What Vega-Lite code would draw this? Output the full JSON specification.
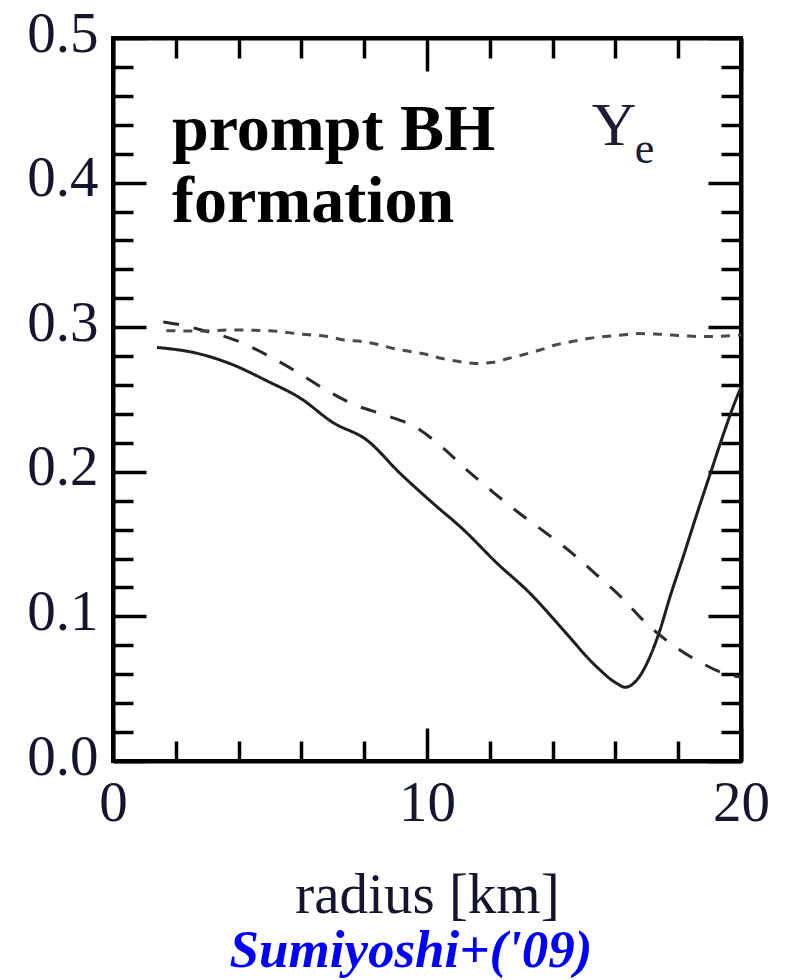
{
  "$schema": "https://vega.github.io/schema/vega-lite/v6.json",
  "width": 628,
  "height": 723,
  "autosize": {"type": "none"},
  "padding": {"left": 113, "top": 38, "right": 44, "bottom": 219},
  "background": "white",
  "config": {
    "view": {"stroke": "black", "strokeWidth": 4},
    "axis": {"grid": false, "labelFlush": false, "labelOverlap": false, "tickColor": "black", "tickWidth": 3.5, "domainColor": "black", "domainWidth": 4, "tickCap": "butt"}
  },
  "title": {
    "text": "Sumiyoshi+('09)",
    "orient": "bottom",
    "anchor": "middle",
    "font": "Liberation Serif",
    "fontSize": 53,
    "fontStyle": "italic",
    "fontWeight": "bold",
    "color": "#0000ff",
    "offset": 2,
    "dx": -16
  },
  "datasets": {
    "curves": [
      {"s": "solid", "x": 1.4, "y": 0.286},
      {"s": "solid", "x": 2.67, "y": 0.282},
      {"s": "solid", "x": 3.82, "y": 0.274},
      {"s": "solid", "x": 4.89, "y": 0.263},
      {"s": "solid", "x": 5.96, "y": 0.251},
      {"s": "solid", "x": 7.01, "y": 0.234},
      {"s": "solid", "x": 8.08, "y": 0.222},
      {"s": "solid", "x": 9.14, "y": 0.199},
      {"s": "solid", "x": 10.15, "y": 0.179},
      {"s": "solid", "x": 11.16, "y": 0.160},
      {"s": "solid", "x": 12.22, "y": 0.137},
      {"s": "solid", "x": 13.28, "y": 0.116},
      {"s": "solid", "x": 14.34, "y": 0.0906},
      {"s": "solid", "x": 15.40, "y": 0.0652},
      {"s": "solid", "x": 16.04, "y": 0.0537},
      {"s": "solid", "x": 16.31, "y": 0.051},
      {"s": "solid", "x": 16.68, "y": 0.056},
      {"s": "solid", "x": 17.10, "y": 0.0721},
      {"s": "solid", "x": 17.42, "y": 0.0906},
      {"s": "solid", "x": 17.74, "y": 0.1136},
      {"s": "solid", "x": 18.16, "y": 0.1413},
      {"s": "solid", "x": 18.59, "y": 0.1705},
      {"s": "solid", "x": 19.01, "y": 0.198},
      {"s": "solid", "x": 19.44, "y": 0.226},
      {"s": "solid", "x": 19.75, "y": 0.245},
      {"s": "solid", "x": 20.0, "y": 0.2585},
      {"s": "dashed", "x": 1.6, "y": 0.3036},
      {"s": "dashed", "x": 2.3, "y": 0.301},
      {"s": "dashed", "x": 2.93, "y": 0.2974},
      {"s": "dashed", "x": 3.5, "y": 0.294},
      {"s": "dashed", "x": 4.04, "y": 0.2898},
      {"s": "dashed", "x": 4.97, "y": 0.280},
      {"s": "dashed", "x": 5.86, "y": 0.269},
      {"s": "dashed", "x": 6.78, "y": 0.2566},
      {"s": "dashed", "x": 7.71, "y": 0.2462},
      {"s": "dashed", "x": 8.66, "y": 0.2393},
      {"s": "dashed", "x": 9.68, "y": 0.2303},
      {"s": "dashed", "x": 10.51, "y": 0.2165},
      {"s": "dashed", "x": 11.34, "y": 0.1999},
      {"s": "dashed", "x": 12.10, "y": 0.186},
      {"s": "dashed", "x": 12.93, "y": 0.1715},
      {"s": "dashed", "x": 13.79, "y": 0.1577},
      {"s": "dashed", "x": 14.62, "y": 0.1438},
      {"s": "dashed", "x": 15.41, "y": 0.1286},
      {"s": "dashed", "x": 16.18, "y": 0.1134},
      {"s": "dashed", "x": 16.91, "y": 0.0968},
      {"s": "dashed", "x": 17.74, "y": 0.0816},
      {"s": "dashed", "x": 18.63, "y": 0.0692},
      {"s": "dashed", "x": 19.52, "y": 0.0602},
      {"s": "dashed", "x": 20.0, "y": 0.058},
      {"s": "dotted", "x": 1.7, "y": 0.2975},
      {"s": "dotted", "x": 2.93, "y": 0.2974},
      {"s": "dotted", "x": 3.66, "y": 0.2981},
      {"s": "dotted", "x": 4.75, "y": 0.2977},
      {"s": "dotted", "x": 5.32, "y": 0.297},
      {"s": "dotted", "x": 5.83, "y": 0.2956},
      {"s": "dotted", "x": 6.34, "y": 0.2946},
      {"s": "dotted", "x": 6.85, "y": 0.2936},
      {"s": "dotted", "x": 7.36, "y": 0.2911},
      {"s": "dotted", "x": 7.93, "y": 0.2901},
      {"s": "dotted", "x": 8.44, "y": 0.288},
      {"s": "dotted", "x": 8.92, "y": 0.2853},
      {"s": "dotted", "x": 9.46, "y": 0.2832},
      {"s": "dotted", "x": 10.0, "y": 0.2811},
      {"s": "dotted", "x": 10.48, "y": 0.2783},
      {"s": "dotted", "x": 11.02, "y": 0.2763},
      {"s": "dotted", "x": 11.53, "y": 0.2749},
      {"s": "dotted", "x": 12.07, "y": 0.2756},
      {"s": "dotted", "x": 12.58, "y": 0.2783},
      {"s": "dotted", "x": 13.03, "y": 0.2808},
      {"s": "dotted", "x": 13.6, "y": 0.2842},
      {"s": "dotted", "x": 14.08, "y": 0.2877},
      {"s": "dotted", "x": 14.62, "y": 0.2901},
      {"s": "dotted", "x": 15.13, "y": 0.2922},
      {"s": "dotted", "x": 15.67, "y": 0.2936},
      {"s": "dotted", "x": 16.21, "y": 0.2946},
      {"s": "dotted", "x": 16.72, "y": 0.2956},
      {"s": "dotted", "x": 17.26, "y": 0.2953},
      {"s": "dotted", "x": 17.8, "y": 0.2946},
      {"s": "dotted", "x": 18.31, "y": 0.2939},
      {"s": "dotted", "x": 18.85, "y": 0.2935},
      {"s": "dotted", "x": 19.39, "y": 0.2938},
      {"s": "dotted", "x": 20.0, "y": 0.2946}
    ],
    "label1": [{"x": 1.88, "y": 0.4225, "t": ["prompt BH", "formation"]}],
    "label2": [{"x": 15.25, "y": 0.426, "t": "Y"}],
    "label3": [{"x": 16.62, "y": 0.4135, "t": "e"}]
  },
  "resolve": {"scale": {"x": "shared", "y": "shared"}, "axis": {"x": "independent", "y": "independent"}},
  "layer": [
    {
      "data": {"name": "curves"},
      "mark": {"type": "line", "strokeWidth": 3, "clip": true, "interpolate": "monotone"},
      "encoding": {
        "x": {"field": "x", "type": "quantitative", "scale": {"domain": [0, 20], "nice": false, "zero": false},
          "axis": {"orient": "bottom", "values": [0, 10, 20], "format": "d", "tickSize": -33, "labelPadding": 47,
            "labelFont": "Liberation Serif", "labelFontSize": 57, "labelColor": "#15152e",
            "title": "radius [km]", "titleFont": "Liberation Serif", "titleFontSize": 57, "titleFontWeight": "normal", "titleColor": "#15152e", "titlePadding": 36}},
        "y": {"field": "y", "type": "quantitative", "scale": {"domain": [0, 0.5], "nice": false, "zero": false},
          "axis": {"orient": "left", "values": [0, 0.1, 0.2, 0.3, 0.4, 0.5], "format": ".1f", "tickSize": -33, "labelPadding": 48,
            "labelFont": "Liberation Serif", "labelFontSize": 57, "labelColor": "#15152e", "labelOffset": -4, "title": null}},
        "strokeDash": {"field": "s", "type": "nominal", "legend": null,
          "scale": {"domain": ["solid", "dashed", "dotted"], "range": [[1, 0], [16, 15], [9, 8]]}},
        "color": {"field": "s", "type": "nominal", "legend": null,
          "scale": {"domain": ["solid", "dashed", "dotted"], "range": ["#1e1e1e", "#2a2a2a", "#4a4a4a"]}}
      }
    },
    {
      "data": {"name": "label1"},
      "mark": {"type": "text", "font": "Liberation Serif", "fontWeight": "bold", "fontSize": 66, "align": "left", "baseline": "alphabetic", "lineHeight": 72, "color": "black"},
      "encoding": {
        "x": {"field": "x", "type": "quantitative", "scale": {"domain": [0, 20], "nice": false, "zero": false},
          "axis": {"orient": "bottom", "values": [2, 4, 6, 8, 12, 14, 16, 18], "tickSize": -20, "labels": false, "domain": false, "title": null}},
        "y": {"field": "y", "type": "quantitative", "scale": {"domain": [0, 0.5], "nice": false, "zero": false},
          "axis": {"orient": "left", "values": [0.02, 0.04, 0.06, 0.08, 0.12, 0.14, 0.16, 0.18, 0.22, 0.24, 0.26, 0.28, 0.32, 0.34, 0.36, 0.38, 0.42, 0.44, 0.46, 0.48], "tickSize": -20, "labels": false, "domain": false, "title": null}},
        "text": {"field": "t"}
      }
    },
    {
      "data": {"name": "label2"},
      "mark": {"type": "text", "font": "Liberation Serif", "fontSize": 62, "align": "left", "baseline": "alphabetic", "color": "#201a35"},
      "encoding": {
        "x": {"field": "x", "type": "quantitative", "scale": {"domain": [0, 20], "nice": false, "zero": false},
          "axis": {"orient": "top", "values": [0, 10, 20], "tickSize": -33, "labels": false, "title": null}},
        "y": {"field": "y", "type": "quantitative", "scale": {"domain": [0, 0.5], "nice": false, "zero": false},
          "axis": {"orient": "right", "values": [0, 0.1, 0.2, 0.3, 0.4, 0.5], "tickSize": -33, "labels": false, "title": null}},
        "text": {"field": "t"}
      }
    },
    {
      "data": {"name": "label3"},
      "mark": {"type": "text", "font": "Liberation Serif", "fontSize": 44, "align": "left", "baseline": "alphabetic", "color": "#201a35"},
      "encoding": {
        "x": {"field": "x", "type": "quantitative", "scale": {"domain": [0, 20], "nice": false, "zero": false},
          "axis": {"orient": "top", "values": [2, 4, 6, 8, 12, 14, 16, 18], "tickSize": -20, "labels": false, "domain": false, "title": null}},
        "y": {"field": "y", "type": "quantitative", "scale": {"domain": [0, 0.5], "nice": false, "zero": false},
          "axis": {"orient": "right", "values": [0.02, 0.04, 0.06, 0.08, 0.12, 0.14, 0.16, 0.18, 0.22, 0.24, 0.26, 0.28, 0.32, 0.34, 0.36, 0.38, 0.42, 0.44, 0.46, 0.48], "tickSize": -20, "labels": false, "domain": false, "title": null}},
        "text": {"field": "t"}
      }
    }
  ]
}
